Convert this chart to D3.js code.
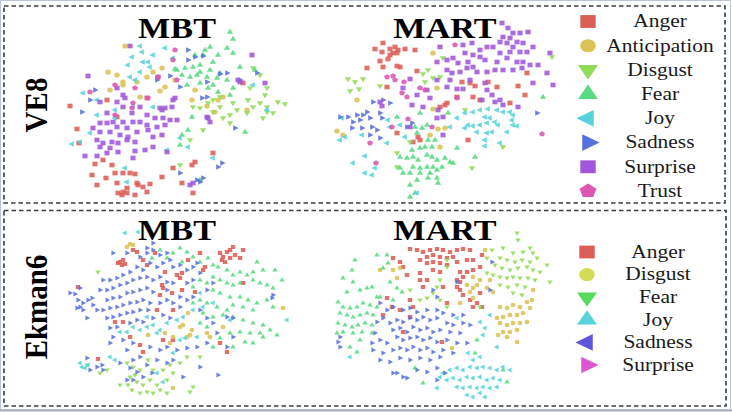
<!DOCTYPE html>
<html><head><meta charset="utf-8">
<script src="https://cdn.jsdelivr.net/npm/d3@7"></script>
<style>body{margin:0;background:#fff}svg{display:block}</style>
</head><body>
<svg id="c" width="732" height="412"></svg>
<script>
// ---------- categories / legend ----------
const topCategories = ["Anger","Anticipation","Disgust","Fear","Joy","Sadness","Surprise","Trust"];
const topColors = ["#db5f57","#dbc257","#91db57","#57db80","#57d3db","#5770db","#a157db","#db57b2"];
const topShapes = ["square","circle","down","up","left","right","square","pentagon"];
const botCategories = ["Anger","Disgust","Fear","Joy","Sadness","Surprise"];
const botLegendColors = ["#db5f57","#d3db57","#57db5f","#57d3db","#5f57db","#db57d3"];
const botPointColors = ["#db5f57","#dbc257","#91db57","#57db80","#57d3db","#5770db"];
const botShapes = ["square","circle","down","up","left","right"];
const columnTitles = ["MBT","MART"];
const rowLabels = ["VE8","Ekman6"];

// ---------- VE8 / MBT (t-SNE coords, arbitrary units) ----------
const ve8MbtAnger = [[70,106],[77,129],[79,143],[95,164],[103,160],[112,165],[115,173],[123,173],[130,173],[135,174],[92,175],[106,178],[117,183],[97,185],[127,188],[123,192],[118,193],[127,193],[122,195],[135,195],[138,185],[143,187],[150,184],[147,192],[162,177],[173,168],[182,183],[192,165],[195,162],[213,153],[193,193],[107,100],[147,98],[243,83],[117,117],[137,183]];
const ve8MbtAnticipation = [[125,46],[108,72],[117,75],[110,90],[123,85],[137,82],[153,72],[162,68],[160,91],[165,87],[175,80],[195,90],[192,100],[207,106],[215,112],[218,100],[223,97],[247,110],[147,77],[140,97],[123,82]];
const ve8MbtDisgust = [[253,68],[260,75],[267,88],[250,88],[265,95],[248,100],[253,107],[260,103],[267,107],[278,102],[285,104],[273,113],[263,118],[267,112],[247,113],[237,110],[230,115],[223,118],[220,107],[213,112],[208,103],[200,108],[193,107],[213,100],[203,130],[230,123],[190,140],[180,165],[220,97],[233,103]];
const ve8MbtFear = [[230,32],[233,39],[210,47],[205,50],[227,48],[233,53],[218,55],[203,55],[195,55],[213,62],[200,65],[193,67],[185,68],[175,69],[182,75],[190,77],[197,75],[200,72],[207,77],[210,70],[217,78],[220,73],[240,67],[227,80],[200,83],[213,85],[208,88],[218,92],[233,88],[230,95],[187,85],[192,117],[188,130],[182,135],[180,145],[245,132],[200,180],[255,70],[177,70]];
const ve8MbtJoy = [[140,46],[142,52],[132,57],[143,62],[148,62],[153,55],[165,48],[173,58],[128,65],[140,72],[130,77],[135,80],[83,93],[97,100],[97,115],[115,110],[133,107],[72,144],[80,142],[90,133],[115,118],[153,107],[180,138],[188,147],[213,158],[125,168],[127,182],[253,85],[267,110],[167,150],[150,67]];
const ve8MbtSadness = [[95,90],[90,100],[82,112],[170,76],[180,87],[188,60],[195,57],[203,56],[188,50],[220,74],[227,73],[207,82],[202,98],[207,97],[180,173],[197,180],[203,178],[222,163],[218,167],[235,128],[257,73],[240,80],[157,80],[200,182]];
const ve8MbtSurprise = [[130,46],[88,76],[252,55],[238,80],[265,83],[208,118],[123,95],[100,102],[107,113],[117,102],[123,107],[132,113],[140,107],[147,115],[160,108],[165,108],[172,107],[175,98],[100,123],[107,123],[113,122],[117,127],[123,122],[127,128],[133,122],[140,122],[147,125],[155,118],[163,118],[170,120],[157,127],[165,125],[93,128],[100,132],[110,132],[120,135],[128,137],[137,132],[148,130],[153,137],[162,135],[97,140],[103,143],[112,142],[118,143],[127,140],[135,142],[100,147],[110,148],[118,152],[135,151],[145,150],[153,147],[85,156],[97,156],[107,153],[133,158],[167,152],[177,120],[210,122],[207,117],[240,82],[158,77],[117,88],[125,98],[173,100],[162,110],[190,185],[193,183]];
const ve8MbtTrust = [[175,50],[173,60],[115,85],[90,92],[135,88],[133,103],[132,108],[158,77],[115,115],[148,98],[177,80]];

// ---------- VE8 / MART ----------
const ve8MartAnger = [[83,43],[75,49],[82,52],[90,49],[95,47],[98,50],[105,49],[115,50],[90,55],[93,53],[97,53],[88,59],[80,61],[100,67],[97,66],[67,68],[83,67],[117,71],[162,82],[170,83],[175,86],[188,82],[197,87],[173,97],[180,100],[157,97],[218,86],[225,95],[227,73],[210,103],[140,107],[145,105],[147,103],[97,133],[118,137],[120,140],[113,142],[168,140],[87,87]];
const ve8MartAnticipation = [[133,53],[137,88],[57,100],[133,109],[37,131],[43,135],[138,129],[145,128],[130,135],[140,147]];
const ve8MartDisgust = [[48,79],[55,82],[63,79],[50,91],[59,89],[80,86],[123,74],[128,70],[133,78],[140,77],[125,82],[97,153],[97,167],[172,168],[203,147],[165,110],[110,142],[143,58],[252,57]];
const ve8MartFear = [[97,117],[120,113],[115,127],[122,128],[127,125],[117,133],[128,140],[125,147],[120,148],[132,147],[112,150],[100,157],[107,158],[113,157],[118,160],[127,155],[132,157],[137,160],[145,158],[150,162],[153,163],[113,167],[120,168],[127,167],[133,167],[142,167],[103,173],[110,173],[120,173],[130,173],[137,170],[117,180],[128,178],[137,178],[138,183],[110,185],[115,193],[110,197],[135,140],[148,113],[157,148],[175,157],[243,97],[100,168]];
const ve8MartJoy = [[165,113],[173,112],[180,110],[188,109],[197,110],[203,112],[210,112],[213,115],[185,117],[190,118],[195,122],[198,125],[187,123],[180,125],[173,126],[168,125],[165,128],[177,132],[187,133],[192,132],[207,132],[213,125],[217,126],[212,120],[185,140],[185,146],[200,143],[157,118],[150,127],[88,120],[90,127],[87,143],[62,135],[40,140],[45,137],[65,156],[53,163],[75,168],[72,175],[65,173],[100,125],[105,137],[42,118],[117,193]];
const ve8MartSadness = [[73,102],[83,100],[90,103],[67,112],[80,113],[40,117],[48,117],[53,122],[60,120],[63,115],[70,118],[57,115],[52,128],[62,128],[72,127],[77,130],[70,135],[80,138],[107,127],[112,123],[237,113],[82,118]];
const ve8MartSurprise = [[202,23],[208,28],[213,33],[220,33],[228,32],[203,37],[210,38],[217,42],[200,42],[207,43],[213,47],[223,43],[233,47],[227,52],[220,52],[210,52],[200,53],[193,47],[187,47],[180,50],[173,55],[165,53],[168,62],[180,57],[185,60],[197,62],[207,58],[217,62],[223,62],[230,65],[238,65],[250,53],[137,62],[147,60],[153,58],[158,63],[147,70],[152,73],[160,72],[167,68],[173,67],[177,72],[187,72],[195,70],[203,70],[213,70],[222,68],[150,80],[137,80],[127,90],[110,79],[103,88],[117,95],[130,98],[147,87],[157,89],[163,89],[170,80],[185,83],[187,90],[192,95],[182,100],[195,102],[200,100],[203,105],[218,107],[233,83],[247,73],[253,85],[140,47],[112,105],[123,107],[137,118],[143,117],[138,110],[110,127],[143,135],[82,106],[80,102],[163,45],[172,43]];
const ve8MartTrust = [[87,77],[93,76],[95,80],[104,82],[102,93],[107,97],[120,88],[125,90],[157,98],[108,119],[132,127],[70,143],[76,163],[242,134],[92,127],[155,45]];

// ---------- Ekman6 / MBT ----------
const ekMbtAnger = [[120,62],[123,60],[118,63],[122,65],[125,64],[137,52],[133,50],[143,60],[147,65],[155,53],[165,72],[163,88],[162,85],[177,75],[180,78],[182,73],[188,60],[200,53],[205,67],[203,70],[220,53],[223,57],[227,52],[222,60],[225,62],[230,50],[230,58],[235,55],[243,50],[233,47],[240,58],[172,93],[160,95],[157,110],[173,110],[115,122],[123,122],[130,137],[140,145],[143,152],[163,140],[173,140],[227,152],[98,159],[78,87],[243,83],[220,143],[182,90],[195,92]];
const ekMbtDisgust = [[133,45],[127,47],[130,44],[180,127],[183,125],[190,135],[192,130],[187,137],[207,133],[210,137],[173,137],[170,143],[148,135],[283,108],[223,127],[173,188],[188,113],[165,133]];
const ekMbtFear = [[127,163],[133,167],[140,170],[130,177],[137,182],[143,185],[150,180],[157,185],[160,190],[153,193],[147,192],[140,193],[132,190],[128,185],[167,180],[173,173],[163,170],[170,165],[180,163],[187,157],[193,187],[190,192],[107,170],[100,173],[87,165],[98,72],[153,170],[148,160],[167,193],[200,157],[120,185],[135,175]];
const ekMbtJoy = [[180,48],[187,52],[193,57],[200,62],[208,58],[213,65],[218,67],[227,70],[233,75],[240,72],[247,75],[253,72],[257,62],[263,70],[275,70],[282,80],[253,80],[260,83],[267,85],[273,88],[240,83],[233,85],[227,83],[220,80],[213,77],[207,83],[200,80],[193,87],[213,90],[220,93],[230,97],[240,97],[248,100],[257,103],[267,100],[273,107],[253,110],[243,107],[233,105],[227,110],[217,107],[207,103],[200,100],[193,103],[203,113],[213,117],[223,115],[233,117],[243,120],[253,123],[263,125],[270,130],[277,135],[260,133],[250,133],[240,132],[230,133],[220,138],[213,147],[233,147],[253,143],[245,142],[263,137],[200,123],[207,127],[182,62],[167,58],[160,50],[173,53],[152,58]];
const ekMbtSadness = [[125,33],[138,32],[80,163],[82,167],[85,168],[88,165],[147,127],[153,125],[157,133],[160,130],[167,123],[177,120],[183,117],[193,110],[203,107],[213,103],[147,117],[140,130],[133,127],[127,132],[120,132],[110,157],[115,160],[157,173],[163,182],[180,140],[185,138],[287,120],[230,120],[197,137],[173,153],[200,93]];
const ekMbtSurprise = [[70,93],[75,94],[80,88],[78,100],[83,103],[88,100],[93,105],[97,110],[83,110],[80,107],[87,118],[92,98],[77,108],[110,80],[117,78],[123,75],[130,72],[137,67],[143,70],[150,63],[157,67],[163,63],[170,60],[140,57],[147,53],[153,50],[160,55],[167,53],[173,67],[180,65],[187,70],[193,67],[200,73],[107,90],[113,88],[120,85],[127,83],[133,80],[140,78],[147,77],[153,80],[160,77],[167,82],[173,83],[187,83],[193,80],[107,100],[113,98],[120,97],[127,93],[133,92],[140,90],[147,88],[153,92],[167,90],[180,97],[187,100],[103,110],[110,108],[117,107],[123,105],[130,103],[137,102],[143,100],[150,103],[160,103],[167,100],[173,103],[180,107],[193,97],[107,118],[113,117],[120,115],[127,113],[133,112],[140,110],[148,110],[163,115],[170,118],[110,128],[117,127],[130,123],[137,120],[143,122],[153,118],[113,137],[123,140],[133,143],[150,147],[160,150],[167,147],[177,150],[187,148],[197,147],[207,143],[217,133],[213,123],[207,118],[227,117],[233,118],[127,150],[140,157],[133,160],[120,163],[130,168],[137,172],[147,165],[157,160],[167,163],[173,160],[143,177],[152,173],[133,180],[127,180],[87,158],[90,170],[97,167],[102,165],[103,170],[218,175],[183,177],[200,167],[103,80],[100,90],[153,43],[147,48],[113,53],[127,53],[273,95],[272,98],[227,147],[233,137],[197,63],[207,90],[213,83],[110,143],[200,110]];

// ---------- Ekman6 / MART ----------
const ekMartAnger = [[110,49],[117,50],[123,52],[130,50],[137,49],[143,50],[150,52],[157,50],[163,49],[170,50],[127,57],[133,55],[140,57],[147,58],[153,57],[120,60],[127,63],[133,62],[140,63],[147,65],[157,62],[93,58],[100,62],[103,67],[107,75],[120,73],[120,80],[123,87],[127,80],[133,70],[140,72],[160,72],[163,77],[167,72],[173,70],[180,67],[182,55],[173,60],[167,60],[160,82],[157,87],[160,90],[163,95],[170,100],[177,103],[180,93],[182,107],[173,107],[110,100],[113,107],[100,110],[92,107],[83,115],[87,98],[110,117],[103,132],[142,142],[157,80],[143,87],[147,103]];
const ekMartDisgust = [[200,107],[207,108],[213,105],[220,107],[227,102],[232,100],[230,108],[223,113],[217,115],[210,115],[203,117],[197,118],[200,123],[207,125],[213,123],[220,123],[227,122],[217,130],[210,132],[203,132],[198,135],[207,137],[217,142],[233,90],[80,70],[93,70],[97,78],[100,68],[167,85],[170,92],[173,88],[177,85],[180,80],[173,98],[187,88],[190,80],[193,92],[152,148],[173,77],[185,50],[160,103]];
const ekMartFear = [[217,33],[218,40],[230,48],[233,53],[223,52],[213,53],[203,48],[200,58],[207,60],[215,62],[222,60],[230,62],[237,58],[195,65],[202,68],[210,70],[218,68],[227,67],[233,70],[240,72],[247,65],[250,82],[193,75],[200,77],[207,78],[213,77],[220,78],[228,78],[235,80],[200,85],[208,87],[217,85],[225,87],[213,93],[222,95],[187,58],[192,50],[147,67],[140,80],[137,87],[133,93],[140,100],[147,107],[127,98],[120,100],[187,73],[147,60],[180,107],[110,90]];
const ekMartJoy = [[55,60],[52,70],[43,78],[53,82],[60,90],[67,88],[72,87],[47,92],[38,102],[43,107],[50,108],[57,107],[63,103],[70,105],[77,107],[40,113],[47,115],[53,117],[60,115],[67,113],[73,115],[38,123],[45,125],[52,127],[58,125],[65,123],[72,125],[37,133],[43,132],[53,133],[62,132],[50,147],[57,152],[60,140],[77,55],[87,55],[88,63],[83,68],[90,82],[97,88],[80,97],[123,183],[203,170],[207,182],[175,153],[177,140],[115,168],[77,97],[93,100],[102,92],[72,133]];
const ekMartSadness = [[143,173],[150,170],[157,168],[163,170],[170,167],[177,168],[183,167],[190,168],[197,170],[203,167],[210,170],[147,180],[153,178],[160,180],[167,177],[173,178],[180,177],[187,180],[193,178],[200,180],[157,187],[163,188],[170,187],[177,188],[183,187],[190,188],[197,187],[167,195],[173,197],[180,193],[185,197],[140,177],[137,188],[173,160],[180,157],[168,153],[197,147],[180,122],[183,135],[185,128],[190,115],[50,157],[157,118]];
const ekMartSurprise = [[80,103],[87,110],[93,107],[103,110],[110,108],[117,112],[127,110],[137,110],[143,113],[153,115],[163,115],[77,122],[83,118],[90,123],[97,120],[103,122],[110,118],[117,120],[123,117],[130,120],[137,118],[147,123],[153,125],[163,123],[170,125],[93,130],[100,128],[107,132],[113,127],[120,130],[127,128],[133,132],[140,130],[150,132],[160,133],[80,140],[87,143],[97,137],[103,140],[110,138],[117,137],[123,140],[130,138],[137,142],[147,140],[157,143],[167,143],[73,150],[83,153],[93,150],[100,148],[107,150],[113,147],[120,150],[127,148],[133,152],[143,150],[153,153],[80,160],[90,162],[100,158],[110,160],[120,158],[130,160],[140,157],[117,170],[127,172],[137,168],[97,173],[103,177],[93,173],[107,178],[137,180],[40,137],[38,142],[40,147],[72,143],[75,133],[145,173],[192,62],[190,90],[157,82],[137,97],[133,90]];

// ---------- panels ----------
const panels = [
  {title:columnTitles[0], ox:0,   oy:0,   colors:topColors, shapes:topShapes, size:15,
   series:[ve8MbtAnger,ve8MbtAnticipation,ve8MbtDisgust,ve8MbtFear,ve8MbtJoy,ve8MbtSadness,ve8MbtSurprise,ve8MbtTrust], tx:177, ty:38},
  {title:columnTitles[1], ox:300, oy:0,   colors:topColors, shapes:topShapes, size:15,
   series:[ve8MartAnger,ve8MartAnticipation,ve8MartDisgust,ve8MartFear,ve8MartJoy,ve8MartSadness,ve8MartSurprise,ve8MartTrust], tx:445, ty:38},
  {title:columnTitles[0], ox:0,   oy:200, colors:botPointColors, shapes:botShapes, size:11,
   series:[ekMbtAnger,ekMbtDisgust,ekMbtFear,ekMbtJoy,ekMbtSadness,ekMbtSurprise], tx:177, ty:240},
  {title:columnTitles[1], ox:300, oy:200, colors:botPointColors, shapes:botShapes, size:11,
   series:[ekMartAnger,ekMartDisgust,ekMartFear,ekMartJoy,ekMartSadness,ekMartSurprise], tx:445, ty:240}
];

const pentagon = {draw(ctx,size){const r=Math.sqrt(size/2.378);for(let i=0;i<5;i++){const a=-Math.PI/2+i*2*Math.PI/5;const x=r*Math.cos(a),y=r*Math.sin(a);if(i)ctx.lineTo(x,y);else ctx.moveTo(x,y);}ctx.closePath();}};
const rot = {down:180, up:0, left:-90, right:90, square:0, circle:0, pentagon:0};
const sizeFactor = {square:1.45, circle:1.35, pentagon:1.3, down:0.95, up:0.95, left:0.95, right:0.95};
function symType(s){return s==="square"?d3.symbolSquare:s==="circle"?d3.symbolCircle:s==="pentagon"?pentagon:d3.symbolTriangle;}

const svg = d3.select("#c");
svg.append("rect").attr("width",732).attr("height",412).attr("fill","#fff");
// outer frame
svg.append("rect").attr("x",0.5).attr("y",0.5).attr("width",730).attr("height",409)
  .attr("fill","none").attr("stroke","#bcc5d2").attr("stroke-width",1);
svg.append("line").attr("x1",0).attr("x2",732).attr("y1",410.5).attr("y2",410.5)
  .attr("stroke","#a7b1c0").attr("stroke-width",2);
// dashed panel frames
[[4,6,725,203],[4,210.5,726,406]].forEach(([x0,y0,x1,y1])=>{
  svg.append("rect").attr("x",x0).attr("y",y0).attr("width",x1-x0).attr("height",y1-y0)
    .attr("fill","none").attr("stroke","#3c3c3c").attr("stroke-width",1.6).attr("stroke-dasharray","4.5,3");
});

const serif = "Liberation Serif";

panels.forEach(p=>{
  const x = d3.scaleLinear().domain([0,300]).range([p.ox,p.ox+300]);
  const y = d3.scaleLinear().domain([0,206]).range([p.oy,p.oy+206]);
  const g = svg.append("g");
  p.series.forEach((pts,i)=>{
    const sh = p.shapes[i];
    const sym = d3.symbol().type(symType(sh)).size(p.size*sizeFactor[sh]);
    g.selectAll(null).data(pts).enter().append("path")
      .attr("d",sym)
      .attr("transform",d=>`translate(${x(d[0])},${y(d[1])}) scale(1.1,1) rotate(${rot[sh]})`)
      .attr("fill",p.colors[i]).attr("opacity",0.88);
  });
  svg.append("text").attr("transform",`translate(${p.tx},${p.ty}) scale(1.14,1)`)
    .attr("text-anchor","middle").attr("font-family",serif).attr("font-weight","bold")
    .attr("font-size",30).attr("fill","#000").text(p.title);
});

// row labels
[[rowLabels[0],105],[rowLabels[1],307]].forEach(([t,cy])=>{
  svg.append("text").attr("transform",`translate(47,${cy}) scale(1.1,1) rotate(-90)`)
    .attr("text-anchor","middle").attr("font-family",serif).attr("font-weight","bold")
    .attr("font-size",29).attr("fill","#000").text(t);
});

// legends
function legend(cats, colors, shapes, y0, y1, mx, tx){
  const ys = d3.scalePoint().domain(cats).range([y0,y1]);
  cats.forEach((c,i)=>{
    const sz = shapes[i]==="square"?165:shapes[i]==="circle"?135:shapes[i]==="pentagon"?130:120;
    svg.append("path").attr("d",d3.symbol().type(symType(shapes[i])).size(sz))
      .attr("transform",`translate(${mx},${ys(c)}) scale(1.2,1) rotate(${rot[shapes[i]]})`)
      .attr("fill",colors[i]);
    svg.append("text").attr("transform",`translate(${tx},${ys(c)+5.8}) scale(1.13,1)`)
      .attr("text-anchor","middle").attr("font-family",serif).attr("font-size",19)
      .attr("fill","#1a1a1a").text(c);
  });
}
legend(topCategories, topColors, topShapes, 21.5, 191, 588, 660);
legend(botCategories, botLegendColors, botShapes, 252, 365, 587, 658);
</script>
</body></html>
